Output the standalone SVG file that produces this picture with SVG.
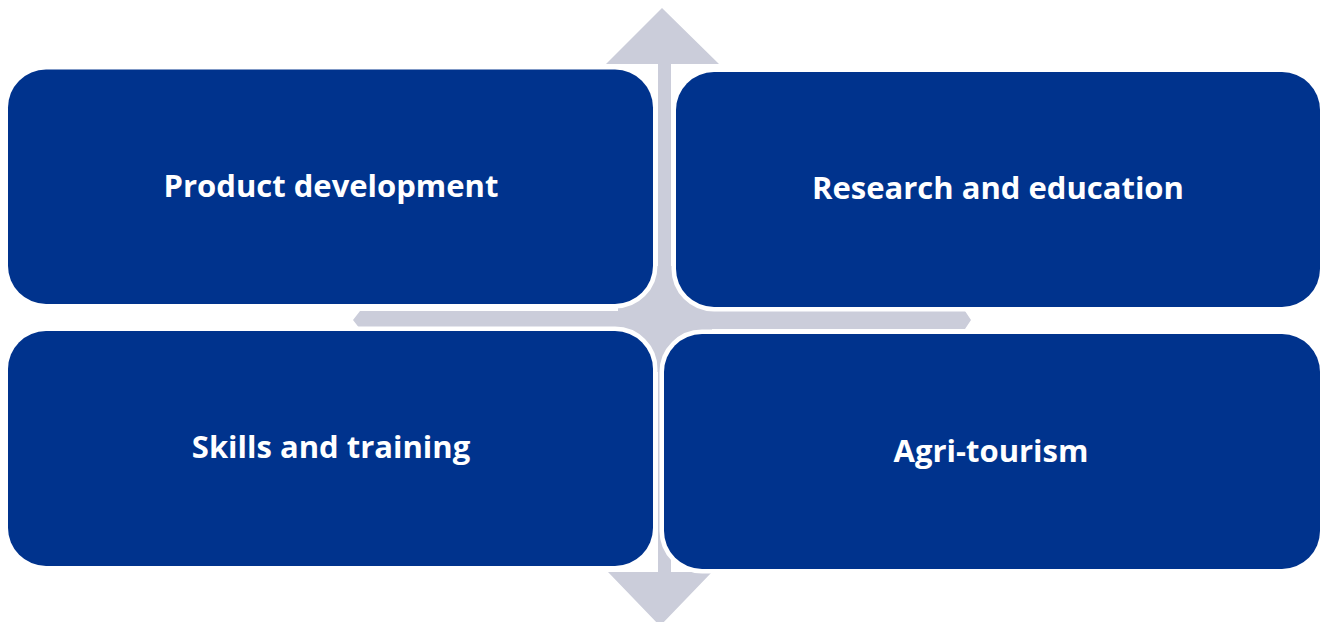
<svg xmlns="http://www.w3.org/2000/svg" width="1322" height="622" viewBox="0 0 1322 622">
<style>
.box{fill:#00338D;stroke:#FFFFFF;stroke-width:9;paint-order:stroke}
.lbl{fill:#FFFFFF;font-family:"Open Sans","Liberation Sans",Arial,sans-serif;font-weight:bold;font-size:31px;text-anchor:middle}
.arrow{fill:#CBCDDA}
</style>
<rect width="1322" height="622" fill="#FFFFFF"/>
<g id="connectors">
<path class="arrow" d="M662,8 L719,64 L671,64 L671,311 L965,311 L971,320 L965,329 L671,329 L671,572 L712,572 L660,626 L608,572 L658,572 L658,329 L360,329 L353,320 L360,311 L658,311 L658,64 L606,64 Z"/>
<rect class="arrow" x="618" y="266" width="94" height="106"/>
</g>
<g id="node-product">
<rect class="box" x="8" y="69.5" width="645" height="234.5" rx="38"/>
<text class="lbl" x="331" y="197">Product development</text>
</g>
<g id="node-research">
<rect class="box" x="676" y="72" width="644" height="235" rx="38"/>
<text class="lbl" x="998" y="199">Research and education</text>
</g>
<g id="node-skills">
<rect class="box" x="8" y="331" width="645" height="235" rx="38"/>
<text class="lbl" x="331" y="458">Skills and training</text>
</g>
<g id="node-agri">
<rect class="box" x="664" y="334" width="656" height="235" rx="38"/>
<text class="lbl" x="991" y="462">Agri-tourism</text>
</g>
</svg>
